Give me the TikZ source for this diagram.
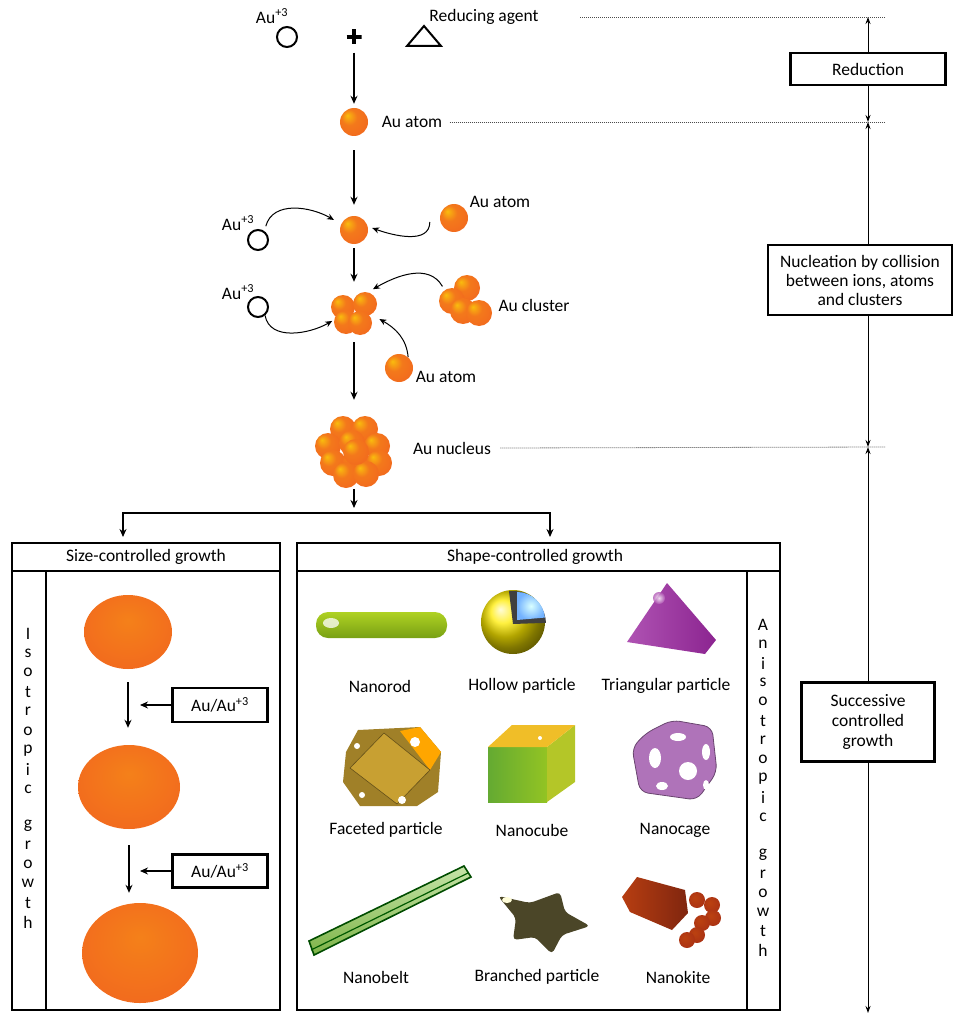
\documentclass[tikz,border=0pt]{standalone}
\usepackage{fontspec}
\setmainfont{Carlito}
\usetikzlibrary{arrows.meta,shapes.geometric,positioning}
\definecolor{auorange}{RGB}{242,106,30}
\definecolor{rodtop}{RGB}{175,210,35}
\definecolor{rodmid}{RGB}{228,242,95}
\definecolor{rodbot}{RGB}{120,160,20}
\definecolor{cubegreen}{RGB}{100,170,50}
\definecolor{cubeside}{RGB}{180,198,40}
\definecolor{cubetop}{RGB}{240,190,40}
\definecolor{trimagenta}{RGB}{155,40,160}
\definecolor{facetgold}{RGB}{200,160,50}
\definecolor{cagepurple}{RGB}{175,115,185}
\definecolor{beltgreen}{RGB}{140,200,80}
\definecolor{branchdark}{RGB}{75,70,40}
\definecolor{kitered}{RGB}{170,50,20}
\pgfdeclareradialshading{aushade}{\pgfpoint{-12bp}{12bp}}{color(0bp)=(auorange!45!yellow); color(14bp)=(auorange!90!yellow); color(32bp)=(auorange); color(50bp)=(auorange!80!black)}
\pgfdeclareradialshading{dropshade}{\pgfpoint{0bp}{8bp}}{color(0bp)=(auorange!85!yellow); color(30bp)=(auorange); color(47bp)=(auorange!92!black); color(50bp)=(auorange!70!yellow)}
\pgfdeclareradialshading{kiteshade}{\pgfpoint{-8bp}{8bp}}{color(0bp)=(kitered!80!orange); color(30bp)=(kitered); color(50bp)=(kitered!80!black)}

\begin{document}
\begin{tikzpicture}[x=1pt,y=-1pt,font=\fontsize{17.5}{20}\selectfont,
    atom/.style={circle,inner sep=0pt,minimum size=28pt,shading=aushade},
    drop/.style={ellipse,inner sep=0pt,shading=dropshade},
    ion/.style={circle,draw,line width=2pt,minimum size=20pt,inner sep=0pt},
    arr/.style={line width=1.6pt,-{Stealth[length=8pt,width=7pt]}},
    curvearr/.style={line width=1pt,-{Stealth[length=7pt,width=6pt]}},
    box/.style={draw,line width=2.4pt,inner sep=0pt},
    levelarr/.style={line width=1pt,-{Stealth[length=7pt,width=5pt]}},
    leader/.style={dash pattern=on 1pt off 1pt,line width=0.8pt,black!70}]
\useasboundingbox (0,0) rectangle (957,1016);

\node (ionlbl0) at (272,16) {Au\textsuperscript{+3}};
\node[ion] (ion0) at (287,37) {};
\node[minimum size=15pt,inner sep=0pt,path picture={\draw[line width=3.5pt]
    (path picture bounding box.west) -- (path picture bounding box.east)
    (path picture bounding box.north) -- (path picture bounding box.south);}] (plus) at (354,37) {};
\draw[line width=2pt] (407,46) -- (424,26) -- (441,46) -- cycle;
\node (agentlbl) at (484,17) {Reducing agent};
\node[atom] (atom1) at (354,122) {};
\node (atomlbl1) at (412,122) {Au atom};
\draw[arr,shorten <=8pt,shorten >=4pt] (plus) -- (atom1);

\node[atom] (atom2) at (354,230) {};
\node[atom] (atom3) at (454,218) {};
\node (atomlbl3) at (500,202) {Au atom};
\node (ionlbl1) at (238,223) {Au\textsuperscript{+3}};
\node[ion] (ion1) at (258,240) {};
\draw[arr,shorten <=14pt,shorten >=11pt] (atom1) -- (atom2);
\draw[curvearr] ([yshift=6pt]ion1.north east) to[out=75,in=150] ([xshift=-10pt]atom2.north west);
\draw[curvearr] ([xshift=-10pt,yshift=-4pt]atom3.west) to[out=-90,in=-20] ([xshift=4pt,yshift=2pt]atom2.east);

\node[circle,minimum size=46pt] (clus) at (354,313) {};
\foreach \cx/\cy in {343/307, 365/304, 346/322, 360/323} \shade[shading=aushade] (\cx,\cy) circle (12);
\node[circle,minimum size=54pt] (rclus) at (466,300) {};
\foreach \cx/\cy in {467/288, 452/301, 463/311, 479/313} \shade[shading=aushade] (\cx,\cy) circle (13);
\node (clusterlbl) at (534,305) {Au cluster};
\node (ionlbl2) at (238,292) {Au\textsuperscript{+3}};
\node[ion] (ion2) at (258,307) {};
\node[atom] (atom4) at (399,368) {};
\node (atomlbl4) at (446,377) {Au atom};
\draw[arr,shorten <=4pt,shorten >=8pt] (atom2) -- (clus);
\draw[curvearr] (ion2.-50) to[out=-80,in=-150] (clus.200);
\draw[curvearr] (rclus.150) to[out=120,in=30] ([xshift=4pt,yshift=6pt]clus.50);
\draw[curvearr] (atom4.50) to[out=95,in=-30] ([xshift=3pt]clus.-15);

\node[ellipse,minimum width=76pt,minimum height=66pt,inner sep=0pt] (nucleus) at (354,449) {};
\foreach \cx/\cy in {343/429, 365/429, 328/446, 352/443, 377/446, 333/463, 356/461, 379/463, 346/475, 366/474, 356/452}
    \shade[shading=aushade] (\cx,\cy) circle (13);
\node (nuclbl) at (452,448) {Au nucleus};
\draw[arr,shorten <=6pt,shorten >=16pt] (clus) -- (nucleus);
\coordinate (split) at (354,513);
\coordinate (sizein) at (123,537);
\coordinate (shapein) at (550,537);
\draw[arr,shorten <=7pt,shorten >=5pt] (nucleus) -- (split);
\draw[arr] (split) -| (sizein);
\draw[arr] (split) -| (shapein);

\draw[box] (12,543) rectangle (280,1010);
\draw[box] (12,571) -- (280,571);
\draw[box] (46,571) -- (46,1010);
\node (sizehead) at (146,557) {Size-controlled growth};
\draw[box] (297,543) rectangle (780,1010);
\draw[box] (297,571) -- (780,571);
\draw[box] (747,571) -- (747,1010);
\node (shapehead) at (535,557) {Shape-controlled growth};

\foreach \ch [count=\i from 0] in {I,s,o,t,r,o,p,i,c} \node (iso\i) at (28,634+19.4*\i) {\ch};
\foreach \ch [count=\i from 0] in {g,r,o,w,t,h} \node (isog\i) at (28,826+19.2*\i) {\ch};
\foreach \ch [count=\i from 0] in {A,n,i,s,o,t,r,o,p,i,c} \node (ani\i) at (763,625+19.2*\i) {\ch};
\foreach \ch [count=\i from 0] in {g,r,o,w,t,h} \node (anig\i) at (763,855+19*\i) {\ch};

\node[drop,minimum width=88pt,minimum height=74pt] (drop1) at (128,632) {};
\node[drop,minimum width=102pt,minimum height=84pt] (drop2) at (129,787) {};
\node[drop,minimum width=116pt,minimum height=100pt] (drop3) at (140,953) {};
\node[box,minimum width=95pt,minimum height=34pt] (feed1) at (220,705) {Au/Au\textsuperscript{+3}};
\node[box,minimum width=95pt,minimum height=33pt] (feed2) at (220,871) {Au/Au\textsuperscript{+3}};
\coordinate (join1) at (140,705);
\coordinate (join2) at (140,871);
\draw[arr,shorten <=13pt,shorten >=17pt] (drop1.south) -- (drop1.south |- drop2.north);
\draw[arr,shorten <=16pt,shorten >=10pt] (drop2.south) -- (drop2.south |- drop3.north);
\draw[arr] (feed1) -- (join1);
\draw[arr] (feed2) -- (join2);

\shade[top color=rodtop,middle color=rodmid,bottom color=rodbot,rounded corners=12pt] (316,612) rectangle (447,638);
\fill[white,opacity=0.75] (331,623) ellipse (8pt and 5pt);
\node (rodlbl) at (380,686) {Nanorod};
\shade[ball color=yellow!85!orange] (513,622) circle (32);
\fill[black!75] (513,624) -- ++(97:33pt) arc[start angle=97,end angle=2,radius=33pt] -- cycle;
\shade[inner color=cyan!15,outer color=cyan!45!blue!55] (517,620) -- ++(90:28pt) arc[start angle=90,end angle=5,radius=28pt] -- cycle;
\node (hollowlbl) at (522,686) {Hollow particle};
\shade[left color=trimagenta!80!white,right color=trimagenta!90!black] (667,583) -- (627,642) -- (705,654) -- (716,640) -- cycle;
\shade[inner color=white,outer color=trimagenta!80!white,opacity=0.8] (659,598) circle (6);
\node (trilbl) at (666,686) {Triangular particle};

\fill[facetgold!80!black] (358,730) -- (420,727) -- (441,752) -- (438,792) -- (417,806) -- (360,806) -- (343,782) -- (346,752) -- cycle;
\fill[facetgold] (384,733) -- (430,770) -- (397,804) -- (350,768) -- cycle;
\fill[orange!70!yellow] (400,731) -- (420,727) -- (441,752) -- (430,770) -- cycle;
\draw[facetgold!50!black,line width=0.6pt] (384,733) -- (430,770) -- (397,804) -- (350,768) -- cycle;
\foreach \cx/\cy/\r in {357/746/3, 415/742/5, 362/795/3, 402/800/4} \fill[white] (\cx,\cy) circle (\r);
\node (facetlbl) at (386,830) {Faceted particle};
\shade[left color=cubegreen,right color=cubegreen!70!yellow] (488,747) rectangle (547,802);
\fill[cubeside] (547,747) -- (575,725) -- (575,782) -- (547,802) -- cycle;
\fill[cubetop] (488,747) -- (512,725) -- (575,725) -- (547,747) -- cycle;
\fill[white] (540,738) circle (2);
\node (cubelbl) at (532,830) {Nanocube};
\fill[cagepurple,rounded corners=8pt] (646,733) -- (672,720) -- (712,727) -- (717,772) -- (697,800) -- (640,792) -- (632,748) -- cycle;
\draw[cagepurple!60!black,line width=0.8pt,rounded corners=8pt] (646,733) -- (672,720) -- (712,727) -- (717,772) -- (697,800) -- (640,792) -- (632,748) -- cycle;
\foreach \cx/\cy/\rx/\ry in {655/758/6/10, 688/771/9/9, 678/737/8/4, 706/752/4/8, 662/786/6/4, 706/785/3/5}
    \fill[white] (\cx,\cy) ellipse (\rx pt and \ry pt);
\node (cagelbl) at (675,830) {Nanocage};

\draw[green!30!black,line width=1.6pt,top color=beltgreen!50!white,bottom color=beltgreen!90!black] (309,941) -- (464,866) -- (471,877) -- (314,955) -- cycle;
\draw[green!35!black,line width=1.2pt] (311,950) -- (468,873);
\node (beltlbl) at (376,977) {Nanobelt};
\fill[branchdark,rounded corners=4pt] (498,896) -- (530,903) -- (560,892) -- (565,912) -- (590,926) -- (562,935) -- (552,954) -- (535,937) -- (513,940) -- (516,918) -- cycle;
\fill[white!85!yellow] (507,900) ellipse (5pt and 3pt);
\node (branchlbl) at (537,977) {Branched particle};
\shade[left color=kitered!85!orange,right color=kitered!75!black] (637,877) -- (685,890) -- (688,913) -- (672,930) -- (630,912) -- (622,897) -- cycle;
\foreach \cx/\cy in {697/900, 712/905, 713/918, 702/923, 697/935, 687/940} \shade[shading=kiteshade] (\cx,\cy) circle (8);
\node (kitelbl) at (678,977) {Nanokite};

\node[box,minimum width=155pt,minimum height=32pt] (reduction) at (868,69) {Reduction};
\node[box,minimum width=184pt,minimum height=70pt,align=center,font=\fontsize{17.5}{19}\selectfont] (nucleation) at (860,280) {Nucleation by collision\\between ions, atoms\\and clusters};
\node[box,minimum width=133pt,minimum height=79pt,align=center] (successive) at (868,722) {Successive\\controlled\\growth};
\coordinate (lvl0) at (868,17);
\coordinate (lvl1) at (868,122);
\coordinate (lvl2) at (868,447);
\coordinate (lvl3) at (868,1013);
\draw[levelarr] (reduction) -- (lvl0);
\draw[levelarr] (reduction) -- (lvl1);
\draw[levelarr] (nucleation.north -| lvl1) -- (lvl1);
\draw[levelarr] (nucleation.south -| lvl2) -- (lvl2);
\draw[levelarr] (successive) -- (lvl2);
\draw[levelarr] (successive) -- (lvl3);
\draw[leader] ([xshift=38pt]agentlbl.east) -- ([xshift=17pt]lvl0);
\draw[leader] ([xshift=4pt]atomlbl1.east) -- ([xshift=17pt]lvl1);
\draw[leader] ([xshift=6pt]nuclbl.east) -- ([xshift=17pt]lvl2);
\end{tikzpicture}
\end{document}
